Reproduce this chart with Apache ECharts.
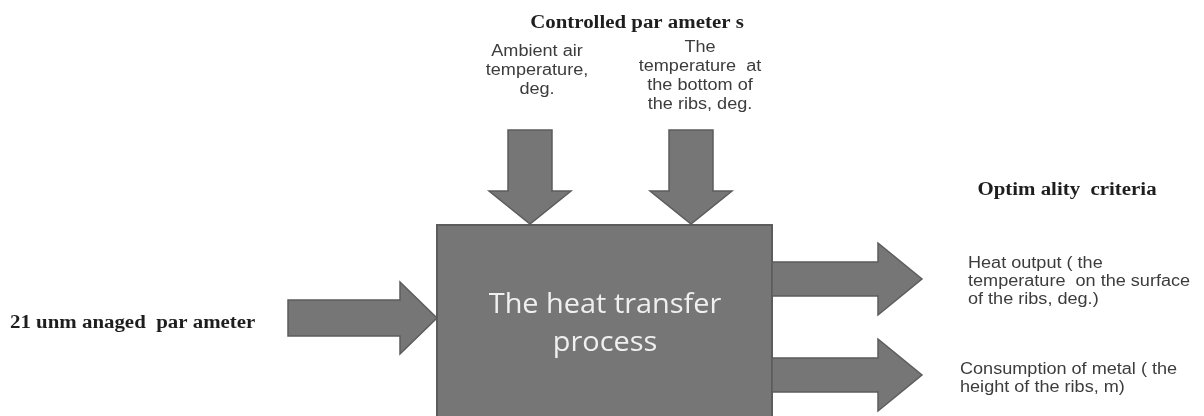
<!DOCTYPE html>
<html>
<head>
<meta charset="utf-8">
<script src="https://cdn.jsdelivr.net/npm/echarts@6/dist/echarts.min.js"></script>
<style>
  html, body { margin: 0; padding: 0; background: #fff; }
  #chart { width: 1204px; height: 416px; }
</style>
</head>
<body>
<div id="chart"></div>
<script>
// diagram space = page pixels, y grows downward
const xMax = 1204
const yMax = 416

// the process block: [left, top, right, bottom]
const processBox = [437, 225, 772, 430]
const processLabel = 'The heat transfer\nprocess'
const processLabelAt = [605, 324]

// arrows: tail point -> tip point
const arrowNames = ['unmanaged', 'ambient', 'ribBase', 'heatOutput', 'metal']
const arrowTail = [[288, 318], [530, 130], [691, 130], [772, 279], [772, 375]]
const arrowTip = [[437, 318], [530, 224], [691, 224], [922, 279], [922, 375]]

// heading texts (bold serif)
const headings = ['Controlled par ameter s', 'Optim ality  criteria', '21 unm anaged  par ameter']
const headingAt = [[637, 23], [1067, 190], [10, 323]]

// parameter texts (sans)
const paramText = [
    'Ambient air\ntemperature,\ndeg.',
    'The\ntemperature  at\nthe bottom of\nthe ribs, deg.',
    'Heat output ( the\ntemperature  on the surface\nof the ribs, deg.)',
    'Consumption of metal ( the\nheight of the ribs, m)'
]
const paramAt = [[537, 52], [700, 48], [968, 264], [960, 370]]

// arrow geometry in pixels: [shaft half width, head half width, head length]
const arrowShape = {
    unmanaged: [18, 36, 37],
    ambient: [22, 41, 33],
    ribBase: [22, 41, 33],
    heatOutput: [17, 36, 44],
    metal: [17, 36, 44]
}

const fill = '#767676'
const edge = '#5c5c5c'

var chart = echarts.init(document.getElementById('chart'))

var option = {
    animation: false,
    grid: {left: 0, right: 0, top: 0, bottom: 0},
    xAxis: {type: 'value', min: 0, max: xMax, show: false},
    yAxis: {type: 'value', min: 0, max: yMax, inverse: true, show: false},
    series: [
        {
            // the big block
            type: 'custom',
            clip: false,
            data: [processBox],
            renderItem: function (params, api) {
                var a = api.coord([api.value(0), api.value(1)])
                var b = api.coord([api.value(2), api.value(3)])
                return {
                    type: 'rect',
                    shape: {x: a[0], y: a[1], width: b[0] - a[0], height: b[1] - a[1]},
                    style: {fill: fill, stroke: edge, lineWidth: 2}
                }
            }
        },
        {
            // block arrows
            type: 'custom',
            clip: false,
            data: arrowNames.map((n, i) => [arrowTail[i][0], arrowTail[i][1], arrowTip[i][0], arrowTip[i][1]]),
            renderItem: function (params, api) {
                var p0 = api.coord([api.value(0), api.value(1)])
                var p1 = api.coord([api.value(2), api.value(3)])
                var s = arrowShape[arrowNames[params.dataIndex]]
                var dx = p1[0] - p0[0], dy = p1[1] - p0[1]
                var len = Math.sqrt(dx * dx + dy * dy)
                var ux = dx / len, uy = dy / len
                var nx = -uy, ny = ux
                var bx = p1[0] - ux * s[2], by = p1[1] - uy * s[2]
                var pts = [
                    [p0[0] + nx * s[0], p0[1] + ny * s[0]],
                    [bx + nx * s[0], by + ny * s[0]],
                    [bx + nx * s[1], by + ny * s[1]],
                    [p1[0], p1[1]],
                    [bx - nx * s[1], by - ny * s[1]],
                    [bx - nx * s[0], by - ny * s[0]],
                    [p0[0] - nx * s[0], p0[1] - ny * s[0]]
                ]
                return {
                    type: 'polygon',
                    shape: {points: pts},
                    style: {fill: fill, stroke: edge, lineWidth: 1.5}
                }
            }
        },
        {
            // block label
            type: 'custom',
            clip: false,
            data: [processLabelAt],
            renderItem: function (params, api) {
                var p = api.coord([api.value(0), api.value(1)])
                return {
                    type: 'text',
                    x: p[0], y: p[1],
                    scaleX: 1.07,
                    style: {
                        text: processLabel,
                        fill: '#f0f0f0',
                        fontFamily: 'Open Sans',
                        fontSize: 27,
                        lineHeight: 38,
                        align: 'center',
                        verticalAlign: 'middle'
                    }
                }
            }
        },
        {
            // bold headings, the source text is stretched sideways
            type: 'custom',
            clip: false,
            data: headingAt,
            renderItem: function (params, api) {
                var p = api.coord([api.value(0), api.value(1)])
                return {
                    type: 'text',
                    x: p[0], y: p[1],
                    scaleX: 1.16,
                    style: {
                        text: headings[params.dataIndex],
                        fill: '#1e1e1e',
                        fontFamily: 'Liberation Serif',
                        fontWeight: 'bold',
                        fontSize: 18,
                        align: params.dataIndex === 2 ? 'left' : 'center',
                        verticalAlign: 'middle'
                    }
                }
            }
        },
        {
            // parameter texts
            type: 'custom',
            clip: false,
            data: paramAt,
            renderItem: function (params, api) {
                var p = api.coord([api.value(0), api.value(1)])
                var i = params.dataIndex
                var lh = i < 2 ? 19 : 18
                return {
                    type: 'text',
                    x: p[0],
                    // first line sits on the given y
                    y: p[1] - lh / 2,
                    scaleX: 1.13,
                    style: {
                        text: paramText[i],
                        fill: '#3c3c3c',
                        fontFamily: 'Liberation Sans',
                        fontSize: 16,
                        lineHeight: lh,
                        align: i < 2 ? 'center' : 'left',
                        verticalAlign: 'top'
                    }
                }
            }
        }
    ]
}

option && chart.setOption(option)
</script>
</body>
</html>
